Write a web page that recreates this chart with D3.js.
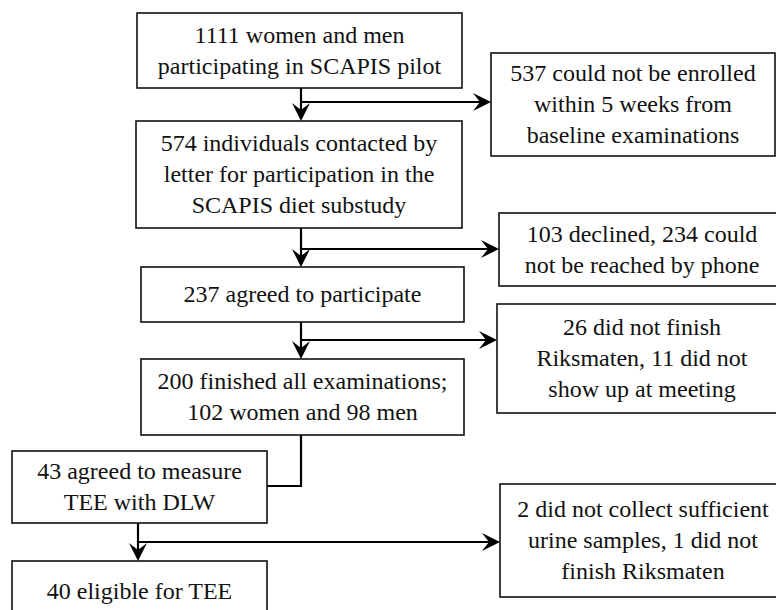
<!DOCTYPE html>
<html>
<head>
<meta charset="utf-8">
<script src="https://cdn.jsdelivr.net/npm/d3@7"></script>
</head>
<body style="margin:0">
<script>
// flow steps (left column) and exclusions (right column)
var mainSteps = [
  ["1111 women and men", "participating in SCAPIS pilot"],
  ["574 individuals contacted by", "letter for participation in the", "SCAPIS diet substudy"],
  ["237 agreed to participate"],
  ["200 finished all examinations;", "102 women and 98 men"],
  ["43 agreed to measure", "TEE with DLW"],
  ["40 eligible for TEE"]
];
var exclusions = [
  ["537 could not be enrolled", "within 5 weeks from", "baseline examinations"],
  ["103 declined, 234 could", "not be reached by phone"],
  ["26 did not finish", "Riksmaten, 11 did not", "show up at meeting"],
  ["2 did not collect sufficient", "urine samples, 1 did not", "finish Riksmaten"]
];

// layout (box geometry in page pixels)
var mainBox = [
  {x: 137, y: 13,  w: 325, h: 75},
  {x: 136, y: 121, w: 326, h: 107},
  {x: 141, y: 267, w: 323, h: 55},
  {x: 141, y: 359, w: 323, h: 76},
  {x: 12,  y: 451, w: 255, h: 72},
  {x: 12,  y: 561, w: 255, h: 60}
];
var sideBox = [
  {x: 491, y: 53,  w: 284, h: 103},
  {x: 499, y: 213, w: 286, h: 73},
  {x: 497, y: 304, w: 290, h: 109},
  {x: 500, y: 484, w: 286, h: 113}
];
// which step flows to which, with its exclusion branch
var flows = [
  {from: 0, to: 1, side: 0, x: 301, by: 102},
  {from: 1, to: 2, side: 1, x: 301, by: 249},
  {from: 2, to: 3, side: 2, x: 301, by: 340},
  {from: 4, to: 5, side: 3, x: 138, by: 542}
];

var width = 776, height = 610, lineH = 31;

var svg = d3.select("body").append("svg")
    .attr("width", width)
    .attr("height", height);

var boxLayer = svg.append("g");
var textLayer = svg.append("g")
    .attr("font-family", "Times New Roman")
    .attr("font-size", 24)
    .attr("fill", "#111");

function drawBoxes(boxes, labels) {
  boxLayer.selectAll(null)
      .data(boxes)
    .enter().append("rect")
      .attr("x", function(d) { return d.x; })
      .attr("y", function(d) { return d.y; })
      .attr("width", function(d) { return d.w; })
      .attr("height", function(d) { return d.h; })
      .attr("fill", "#fff")
      .attr("stroke", "#111")
      .attr("stroke-width", 1.6);

  var rows = [];
  boxes.forEach(function(d, i) {
    var lines = labels[i];
    lines.forEach(function(t, j) {
      rows.push({t: t, cx: d.x + d.w / 2,
                 y: d.y + d.h / 2 + (j - (lines.length - 1) / 2) * lineH + 7.5});
    });
  });
  textLayer.selectAll(null)
      .data(rows)
    .enter().append("text")
      .attr("x", function(r) { return r.cx; })
      .attr("y", function(r) { return r.y; })
      .attr("text-anchor", "middle")
      .style("font-family", "Times New Roman")
      .text(function(r) { return r.t; });
}

// arrow head pointing along angle (deg), tip at (x,y)
function arrowHead(x, y, angle) {
  svg.append("path")
      .attr("d", "M0,0 L-18,-9 L-11,0 L-18,9 Z")
      .attr("transform", "translate(" + x + "," + y + ") rotate(" + angle + ")")
      .attr("fill", "#000");
}

function line(pts) {
  svg.append("path")
      .attr("d", d3.line()(pts))
      .attr("fill", "none")
      .attr("stroke", "#000")
      .attr("stroke-width", 2.2);
}

drawBoxes(mainBox, mainSteps);
drawBoxes(sideBox, exclusions);

flows.forEach(function(f) {
  var a = mainBox[f.from], b = mainBox[f.to], s = sideBox[f.side];
  line([[f.x, a.y + a.h], [f.x, b.y - 4]]);
  arrowHead(f.x, b.y, 90);
  line([[f.x, f.by], [s.x - 4, f.by]]);
  arrowHead(s.x, f.by, 0);
});

// 200 finished -> 43 agreed (plain elbow, no head)
var b4 = mainBox[3], b5 = mainBox[4];
line([[301, b4.y + b4.h], [301, 486], [b5.x + b5.w, 486]]);
</script>
</body>
</html>
